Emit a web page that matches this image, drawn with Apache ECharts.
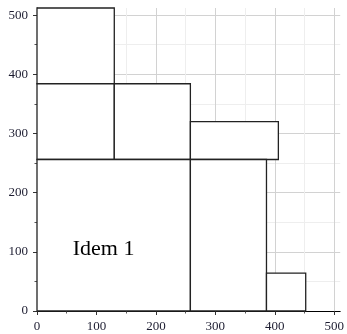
<!DOCTYPE html>
<html>
<head>
<meta charset="utf-8">
<script src="https://cdn.jsdelivr.net/npm/echarts@6/dist/echarts.min.js"></script>
<style>
  html, body { margin: 0; padding: 0; background: #fff; }
  #main { width: 347px; height: 334px; }
</style>
</head>
<body>
<div id="main"></div>
<script>
const chart = echarts.init(document.getElementById('main'))

// rectangles, in data units
const xStart = [0, 0, 130, 258, 0, 258, 386]
const xEnd = [130, 130, 258, 406, 258, 386, 452]
const yStart = [384, 256, 256, 256, 0, 0, 0]
const yEnd = [512, 384, 384, 320, 256, 256, 64]

const majorTicks = [0, 100, 200, 300, 400, 500]
const minorTicks = [50, 150, 250, 350, 450]

const labelText = 'Idem 1'
const labelAt = [112, 104]

let rects = xStart.map((x, i) => [x, xEnd[i], yStart[i], yEnd[i]])

let font = 'Liberation Serif'

let mainAxis = (max) => ({
  type: 'value',
  min: 0,
  max: max,
  axisLine: { show: true, onZero: false, lineStyle: { color: '#000', width: 1 } },
  axisTick: { show: true, length: 4, customValues: majorTicks, lineStyle: { color: '#333' } },
  axisLabel: { customValues: majorTicks, color: '#1c1c30', fontFamily: font, fontSize: 13, margin: 9 },
  splitLine: { show: true, lineStyle: { color: '#d2d2d2', width: 1 } }
})

let minorAxis = (max) => ({
  type: 'value',
  min: 0,
  max: max,
  axisLine: { show: false },
  axisTick: { show: true, length: 2.5, customValues: minorTicks, lineStyle: { color: '#555' } },
  axisLabel: { show: false },
  splitLine: { show: true, lineStyle: { color: '#eeeeee', width: 1 } }
})

let option = {
  animation: false,
  backgroundColor: '#fff',
  grid: { left: 37, right: 5, top: 8, bottom: 23 },
  xAxis: [Object.assign(mainAxis(510), { position: 'bottom' }),
          Object.assign(minorAxis(510), { position: 'bottom' })],
  yAxis: [Object.assign(mainAxis(512), { position: 'left' }),
          Object.assign(minorAxis(512), { position: 'left' })],
  series: [
    {
      type: 'custom',
      xAxisIndex: 0,
      yAxisIndex: 0,
      clip: false,
      data: rects,
      encode: { x: [0, 1], y: [2, 3] },
      renderItem: (params, api) => {
        let p0 = api.coord([api.value(0), api.value(2)])
        let p1 = api.coord([api.value(1), api.value(3)])
        return {
          type: 'rect',
          shape: { x: p0[0], y: p1[1], width: p1[0] - p0[0], height: p0[1] - p1[1] },
          style: { fill: '#fff', stroke: '#222', lineWidth: 1.3 }
        }
      }
    },
    {
      type: 'custom',
      xAxisIndex: 0,
      yAxisIndex: 0,
      data: [labelAt],
      renderItem: (params, api) => {
        let p = api.coord([api.value(0), api.value(1)])
        return {
          type: 'text',
          x: p[0],
          y: p[1],
          style: {
            text: labelText,
            fill: '#000',
            font: '22px "Liberation Serif"',
            align: 'center',
            verticalAlign: 'middle'
          }
        }
      }
    }
  ]
}
chart.setOption(option)
</script>
</body>
</html>
